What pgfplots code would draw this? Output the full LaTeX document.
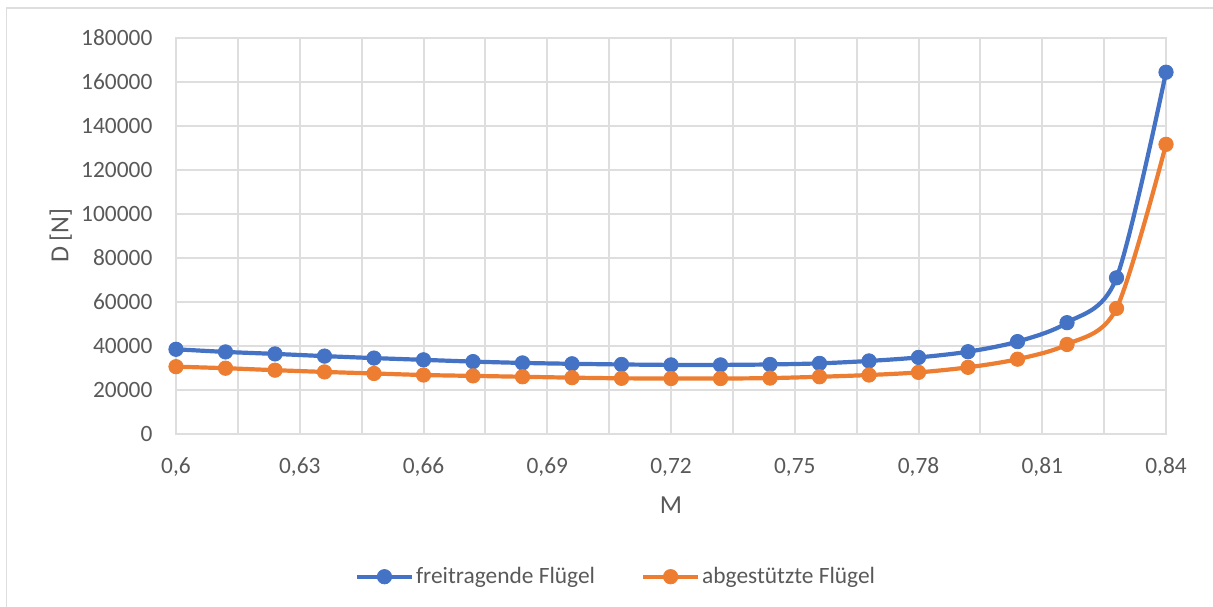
\documentclass[border=0pt]{standalone}
\usepackage{pgfplots}
\pgfplotsset{compat=1.18}
\usepackage{fontspec}
\setmainfont{Carlito}
\definecolor{blueline}{RGB}{68,114,196}
\definecolor{orangeline}{RGB}{237,125,49}
\definecolor{gridgray}{RGB}{222,222,222}
\definecolor{textgray}{RGB}{89,89,89}

\pgfplotstableread{
M      frei    abg
0.600  38300   30400
0.612  37100   29700
0.624  36200   28800
0.636  35200   28000
0.648  34300   27300
0.660  33500   26600
0.672  32700   26200
0.684  32100   25800
0.696  31700   25400
0.708  31400   25100
0.720  31200   25000
0.732  31200   25000
0.744  31400   25200
0.756  31900   25800
0.768  33000   26600
0.780  34600   27800
0.792  37200   30100
0.804  41800   33800
0.816  50400   40500
0.828  70800   56900
0.840  164300  131500
}\drag

\begin{document}
\begin{tikzpicture}
\path[use as bounding box] (0,0) rectangle (606.5pt,303pt);
% Rahmen des Diagrammbereichs (rechts und unten abgeschnitten)
\draw[gridgray, line width=0.75pt] (3.25pt,-1pt) -- (3.25pt,299pt) -- (608pt,299pt);
\begin{axis}[
  at={(88pt,86.25pt)}, anchor=south west,
  scale only axis, width=495pt, height=197.9pt,
  xmin=0.6, xmax=0.84, ymin=0, ymax=180000,
  clip=false,
  xtick={0.6,0.615,0.63,0.645,0.66,0.675,0.69,0.705,0.72,0.735,0.75,0.765,0.78,0.795,0.81,0.825,0.84},
  xticklabels={{0,6},,{0,63},,{0,66},,{0,69},,{0,72},,{0,75},,{0,78},,{0,81},,{0,84}},
  ytick={0,20000,40000,60000,80000,100000,120000,140000,160000,180000},
  xmajorgrids, ymajorgrids,
  grid style={gridgray, line width=1pt},
  axis line style={gridgray, line width=1pt},
  major tick length=0pt,
  scaled ticks=false,
  /pgf/number format/assume math mode=true,
  tick label style={font=\fontsize{11.7}{14}\selectfont, text=textgray, inner sep=0pt},
  xticklabel style={anchor=base, yshift=-19.75pt},
  yticklabel style={anchor=east, xshift=-11.6pt,
    /pgf/number format/.cd, fixed, 1000 sep={}},
  xlabel={M}, ylabel={D [N]},
  label style={font=\fontsize{13}{15}\selectfont, text=textgray},
  xlabel style={at={(axis description cs:0.5,-0.2009)}, anchor=base},
  ylabel style={at={(axis description cs:-0.1086,0.5)}, anchor=base},
  legend style={at={(axis description cs:0.4444,-0.3618)}, anchor=center,
    draw=none, fill=none, font=\fontsize{11.7}{14}\selectfont, text=textgray,
    legend columns=2, nodes={inner sep=1pt},
    /tikz/every even column/.append style={column sep=22pt}},
  legend image code/.code={%
    \draw[mark repeat=2,mark phase=2] plot coordinates {(0pt,0pt)(13.75pt,0pt)(27.5pt,0pt)};},
]
\addplot[blueline, line width=2.1pt, smooth, mark=*, mark size=3.6pt,
  mark options={fill=blueline, draw=blueline, line width=0.4pt}]
  table[x=M, y=frei] {\drag};
\addlegendentry{freitragende Flügel}
\addplot[orangeline, line width=2.1pt, smooth, mark=*, mark size=3.6pt,
  mark options={fill=orangeline, draw=orangeline, line width=0.4pt}]
  table[x=M, y=abg] {\drag};
\addlegendentry{abgestützte Flügel}
\end{axis}
\end{tikzpicture}
\end{document}
